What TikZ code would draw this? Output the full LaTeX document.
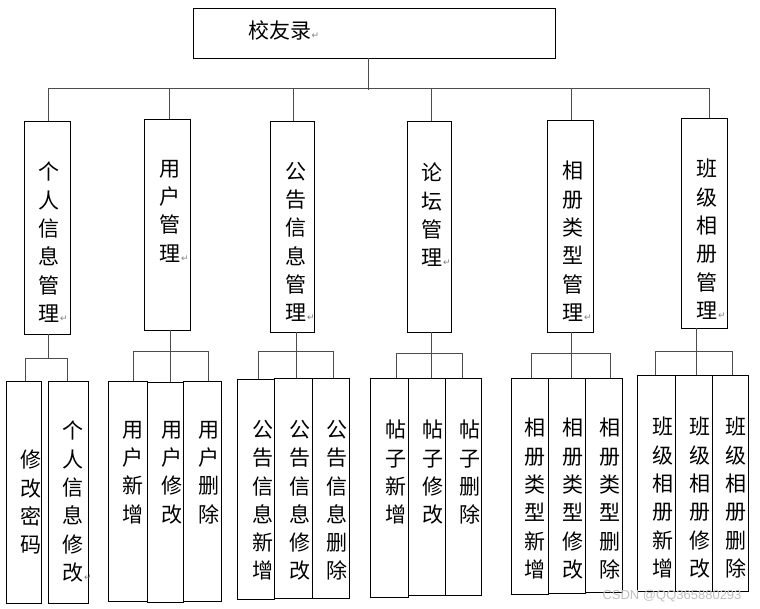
\documentclass[tikz,border=0pt]{standalone}
\usepackage{fontspec}
\setmainfont{Noto Sans CJK SC}
\newfontfamily\symfont{DejaVu Sans}
\newfontfamily\wmfont{Liberation Sans}
\newcommand\retmark{\rlap{\kern0.5pt\symfont\fontsize{9}{9}\selectfont\color{gray}↵}}
\newcommand\mkbox[5]{\node[bx, minimum width={(#4-#2)*1pt}, minimum height={(#5-#3)*1pt}] (#1) at ({(#2+#4)/2},{(#3+#5)/2}) {};}
\newcommand\vtext[4]{\node[vt] (#1) at (#2,#3) {#4};}
\tikzset{
  bx/.style={draw=black, line width=0.9pt, inner sep=0pt, outer sep=0pt, fill=white},
  vt/.style={anchor=north, align=center, inner sep=0pt, font=\fontsize{21}{28.3}\selectfont},
  ln/.style={draw=black!70, line width=0.9pt},
}
\begin{document}
\begin{tikzpicture}[x=1pt,y=-1pt]
\useasboundingbox (0,0) rectangle (760,609);
% root
\mkbox{root}{193}{8}{555}{58}
\node[anchor=base west, inner sep=0pt, font=\fontsize{21}{21}\selectfont] (roottext) at (248,38.5) {校友录\retmark};
% second level
\mkbox{L1}{24}{121}{70}{334}
\mkbox{L2}{144}{119}{190}{330}
\mkbox{L3}{270}{121}{314}{332}
\mkbox{L4}{407}{121}{451}{332}
\mkbox{L5}{547}{120}{593}{332}
\mkbox{L6}{681}{118}{727}{328}
\vtext{tL1}{49}{162}{个\\人\\信\\息\\管\\理\retmark}
\vtext{tL2}{170}{160}{用\\户\\管\\理\retmark}
\vtext{tL3}{296}{162}{公\\告\\信\\息\\管\\理\retmark}
\vtext{tL4}{432}{163}{论\\坛\\管\\理\retmark}
\vtext{tL5}{573}{161}{相\\册\\类\\型\\管\\理\retmark}
\vtext{tL6}{707}{159}{班\\级\\相\\册\\管\\理\retmark}
% third level
\mkbox{A1}{6}{381}{41}{603}
\mkbox{A2}{48}{381}{88}{603}
\mkbox{B1}{108}{381}{147}{601}
\mkbox{B3}{183}{381}{221}{601}
\mkbox{B2}{147}{382}{183}{602}
\mkbox{C1}{237}{379}{274}{599}
\mkbox{C3}{312}{378}{349}{598}
\mkbox{C2}{274}{378}{312}{598}
\mkbox{D1}{370}{378}{408}{597}
\mkbox{D3}{445}{378}{481}{595}
\mkbox{D2}{408}{378}{445}{595}
\mkbox{E1}{511}{378}{548}{594}
\mkbox{E3}{585}{378}{622}{592}
\mkbox{E2}{548}{378}{585}{593}
\mkbox{F1}{637}{375}{675}{591}
\mkbox{F3}{712}{375}{748}{591}
\mkbox{F2}{675}{375}{712}{591}
\vtext{tA1}{31}{450}{修\\改\\密\\码}
\vtext{tA2}{73}{421}{个\\人\\信\\息\\修\\改\retmark}
\vtext{tB1}{133}{421}{用\\户\\新\\增}
\vtext{tB2}{172}{421}{用\\户\\修\\改}
\vtext{tB3}{208.5}{421}{用\\户\\删\\除}
\vtext{tC1}{263}{420}{公\\告\\信\\息\\新\\增}
\vtext{tC2}{300}{420}{公\\告\\信\\息\\修\\改}
\vtext{tC3}{337}{420}{公\\告\\信\\息\\删\\除}
\vtext{tD1}{396}{420}{帖\\子\\新\\增}
\vtext{tD2}{433}{420}{帖\\子\\修\\改}
\vtext{tD3}{470}{420}{帖\\子\\删\\除}
\vtext{tE1}{535}{418}{相\\册\\类\\型\\新\\增}
\vtext{tE2}{573}{418}{相\\册\\类\\型\\修\\改}
\vtext{tE3}{610}{418}{相\\册\\类\\型\\删\\除}
\vtext{tF1}{663}{417}{班\\级\\相\\册\\新\\增}
\vtext{tF2}{700}{417}{班\\级\\相\\册\\修\\改}
\vtext{tF3}{736}{417}{班\\级\\相\\册\\删\\除}
% top connectors
\coordinate (r0) at (368,88);
\coordinate (b1) at (48,88);
\coordinate (b2) at (169,88);
\coordinate (b3) at (293,88);
\coordinate (b4) at (431,88);
\coordinate (b5) at (571,88);
\coordinate (b6) at (709,88);
\draw[ln] (r0 |- root.south) -- ([yshift=-2pt]r0);
\draw[ln] (b1) -- (b6);
\foreach \n/\b in {L1/b1,L2/b2,L3/b3,L4/b4,L5/b5,L6/b6}{
  \draw[ln] (\b) -- (\b |- \n.north);
}
% group 1
\coordinate (m1) at (48,358);
\coordinate (d11) at (25,358);
\coordinate (d12) at (67,358);
\draw[ln] (m1 |- L1.south) -- (m1);
\draw[ln] (d11 |- A1.north) -- (d11) -- (d12) -- (d12 |- A2.north);
% group 2
\coordinate (m2) at (170,351);
\coordinate (d21) at (133,351);
\coordinate (d23) at (208,351);
\draw[ln] (m2 |- L2.south) -- (m2 |- B2.north);
\draw[ln] (d21 |- B1.north) -- (d21) -- (d23) -- (d23 |- B3.north);
% group 3
\coordinate (m3) at (296,351);
\coordinate (d31) at (258,351);
\coordinate (d33) at (333,351);
\draw[ln] (m3 |- L3.south) -- (m3 |- C2.north);
\draw[ln] (d31 |- C1.north) -- (d31) -- (d33) -- (d33 |- C3.north);
% group 4
\coordinate (m4) at (431,353);
\coordinate (d41) at (396,353);
\coordinate (d43) at (462,353);
\draw[ln] (m4 |- L4.south) -- (m4 |- D2.north);
\draw[ln] (d41 |- D1.north) -- (d41) -- (d43) -- (d43 |- D3.north);
% group 5
\coordinate (m5) at (571,353);
\coordinate (d51) at (531,353);
\coordinate (d53) at (610,353);
\draw[ln] (m5 |- L5.south) -- (m5 |- E2.north);
\draw[ln] (d51 |- E1.north) -- (d51) -- (d53) -- (d53 |- E3.north);
% group 6
\coordinate (m6) at (696,351);
\coordinate (d61) at (655,351);
\coordinate (d63) at (732,351);
\draw[ln] (m6 |- L6.south) -- (m6 |- F2.north);
\draw[ln] (d61 |- F1.north) -- (d61) -- (d63) -- (d63 |- F3.north);
% watermark
\node[inner sep=0pt, text=black!25, font=\wmfont\fontsize{13}{13}\selectfont] (wm) at (672,596) {CSDN @QQ365880293};
\end{tikzpicture}
\end{document}
